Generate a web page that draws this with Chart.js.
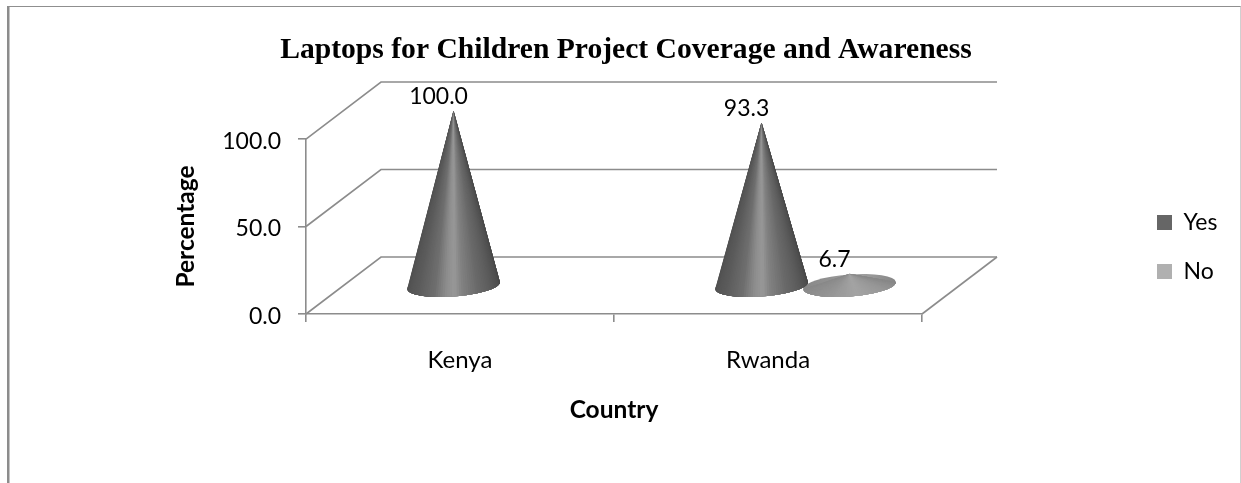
<!DOCTYPE html>
<html><head><meta charset="utf-8">
<style>
html,body{margin:0;padding:0;background:#fff;width:1241px;height:483px;overflow:hidden}
#wrap{position:relative;width:1241px;height:483px}
#frame{position:absolute;left:7px;top:6px;right:0;bottom:0;border-left:2px solid #8c8c8c;border-top:1px solid #8f8f8f;border-right:1px solid #d0d0d0;box-shadow:inset 1px 0 0 #c4c4c4;pointer-events:none}
canvas{position:absolute;left:0;top:0}
</style>
<script src="https://cdn.jsdelivr.net/npm/chart.js@4"></script>
</head><body><div id="wrap"><canvas id="c" width="1241" height="483"></canvas><div id="frame"></div></div>
<script>
const categories = ["Kenya", "Rwanda"];
const yesValues = [100.0, 93.3];
const noValues = [null, 6.7];
const yesLabel = "Yes";
const noLabel = "No";
const chartTitle = "Laptops for Children Project Coverage and Awareness";
const yAxisTitle = "Percentage";
const xAxisTitle = "Country";
const yTickStep = 50;

const SANS = "Lato, 'Open Sans', sans-serif";
const GRID = "#8c8c8c";
const DX = 75, DY = -57;           // 3D depth of the chart box
const BASE_B = 11, TILT = -4.3 * Math.PI / 180;
const SHADES = {
  0: [[0,78],[.22,92],[.36,110],[.44,140],[.5,152],[.56,128],[.68,104],[.85,84],[1,70]],
  1: [[0,136],[.3,146],[.55,164],[.8,148],[1,134]]
};
function shade(stops, t){
  for(let i=1;i<stops.length;i++){
    if(t<=stops[i][0]){
      const a=stops[i-1], b=stops[i], k=(t-a[0])/(b[0]-a[0]);
      const g=Math.round(a[1]+(b[1]-a[1])*k);
      return `rgb(${g},${g},${g})`;
    }
  }
  const g=stops[stops.length-1][1]; return `rgb(${g},${g},${g})`;
}
const cones = {
  id:'cones',
  beforeLayout(chart){
    const lg = chart.legend;
    if(!lg._wrapped){
      const fit = lg.fit;
      lg.fit = function(){ fit.call(this); this.width = 307; };
      lg._wrapped = true;
    }
  },
  afterLayout(chart){
    const lg = chart.legend;
    lg.left = 1131; lg.right = 1229;
    lg.top += 11;
  },
  beforeDatasetsDraw(chart){
    const {ctx, chartArea:a, scales:{x,y}} = chart;
    ctx.save();
    ctx.strokeStyle = GRID; ctx.lineWidth = 1.6;
    y.ticks.forEach(t=>{
      const py = y.getPixelForValue(t.value);
      ctx.beginPath();
      ctx.moveTo(a.left, py);
      ctx.lineTo(a.left+DX, py+DY);
      ctx.lineTo(a.right+DX, py+DY);
      ctx.stroke();
    });
    ctx.beginPath();
    ctx.moveTo(a.right, a.bottom);
    ctx.lineTo(a.right+DX, a.bottom+DY);
    ctx.stroke();
    ctx.restore();
  },
  beforeDatasetDraw(chart, args){
    const {ctx, scales:{y}} = chart;
    const meta = chart.getDatasetMeta(args.index);
    const ds = chart.data.datasets[args.index];
    const stops = SHADES[args.index];
    meta.data.forEach((bar,i)=>{
      const v = ds.data[i];
      if(v===null) return;
      const cx = bar.x + DX/2, cy = y.getPixelForValue(0) + DY/2;
      const ay = y.getPixelForValue(v) + DY/2;
      const A = bar.width/2;
      const cos=Math.cos(TILT), sin=Math.sin(TILT);
      const pt = th=>{
        const ex=A*Math.cos(th), ey=BASE_B*Math.sin(th);
        return [cx+ex*cos-ey*sin, cy+ex*sin+ey*cos];
      };
      const g = ctx.createLinearGradient(cx-A,0,cx+A,0);
      stops.forEach(s=>g.addColorStop(s[0],shade(stops,s[0])));
      ctx.save();
      ctx.fillStyle=g;
      ctx.beginPath();
      ctx.ellipse(cx,cy,A,BASE_B,TILT,0,Math.PI*2);
      ctx.fill();
      // fan of slices from the apex; each slice runs on under the next, so no seams
      const N=60;
      for(let k=0;k<N;k++){
        const t0=Math.PI*(1-k/N);
        const col=shade(stops,(k+.5)/N);
        ctx.fillStyle=col;
        ctx.beginPath();
        ctx.moveTo(cx,ay);
        ctx.lineTo(...pt(t0));
        for(let j=k+1;j<=Math.min(k+6,N);j++) ctx.lineTo(...pt(Math.PI*(1-j/N)));
        ctx.closePath();
        ctx.fill();
      }
      ctx.restore();
    });
    return false;
  },
  afterDatasetsDraw(chart){
    const {ctx, scales:{y}} = chart;
    ctx.save();
    ctx.font = "23px "+SANS;
    ctx.fillStyle="#000"; ctx.textAlign="center"; ctx.textBaseline="middle";
    chart.data.datasets.forEach((ds,di)=>{
      chart.getDatasetMeta(di).data.forEach((bar,i)=>{
        const v=ds.data[i];
        if(v===null) return;
        ctx.fillText(v.toFixed(1), bar.x+DX/2-15, y.getPixelForValue(v)+DY/2-14);
      });
    });
    ctx.restore();
  }
};
new Chart(document.getElementById('c'),{
  type:'bar',
  plugins:[cones],
  data:{labels:categories,datasets:[
    {label:yesLabel,data:yesValues,backgroundColor:"#666666"},
    {label:noLabel,data:noValues,backgroundColor:"#b0b0b0"}
  ]},
  options:{
    responsive:false,animation:false,devicePixelRatio:1,
    categoryPercentage:.571,barPercentage:1.057,
    layout:{padding:{left:23,right:12,top:0,bottom:0}},
    plugins:{
      title:{display:true,text:chartTitle,color:"#000",
        font:{family:"'Liberation Serif','Times New Roman',serif",size:29.6,weight:'bold',lineHeight:1.2},
        padding:{top:33,bottom:70.5}},
      legend:{position:'right',
        labels:{boxWidth:15,boxHeight:15,padding:26,color:"#000",font:{family:SANS,size:23}}},
      tooltip:{enabled:false}
    },
    scales:{
      x:{
        afterFit(s){s.height=169;},
        grid:{drawOnChartArea:false,drawTicks:true,tickLength:8,color:GRID,lineWidth:1.6,offset:true},
        border:{color:GRID,width:1.6},
        ticks:{color:"#000",padding:24,font:{family:SANS,size:24},maxRotation:0},
        title:{display:true,text:xAxisTitle,color:"#000",font:{family:SANS,size:24.5,weight:'bold'},padding:{top:0,bottom:58}}
      },
      y:{
        min:0,max:100,
        afterFit(s){s.width=283;},
        grid:{drawOnChartArea:false,drawTicks:true,tickLength:8,color:GRID,lineWidth:1.6},
        border:{color:GRID,width:1.6},
        ticks:{stepSize:yTickStep,color:"#000",padding:17,labelOffset:2.5,font:{family:SANS,size:23},callback:v=>v.toFixed(1)},
        title:{display:true,text:yAxisTitle,color:"#000",font:{family:SANS,size:24.5,weight:'bold'},padding:{top:148,bottom:0}}
      }
    }
  }
});
</script></body></html>
